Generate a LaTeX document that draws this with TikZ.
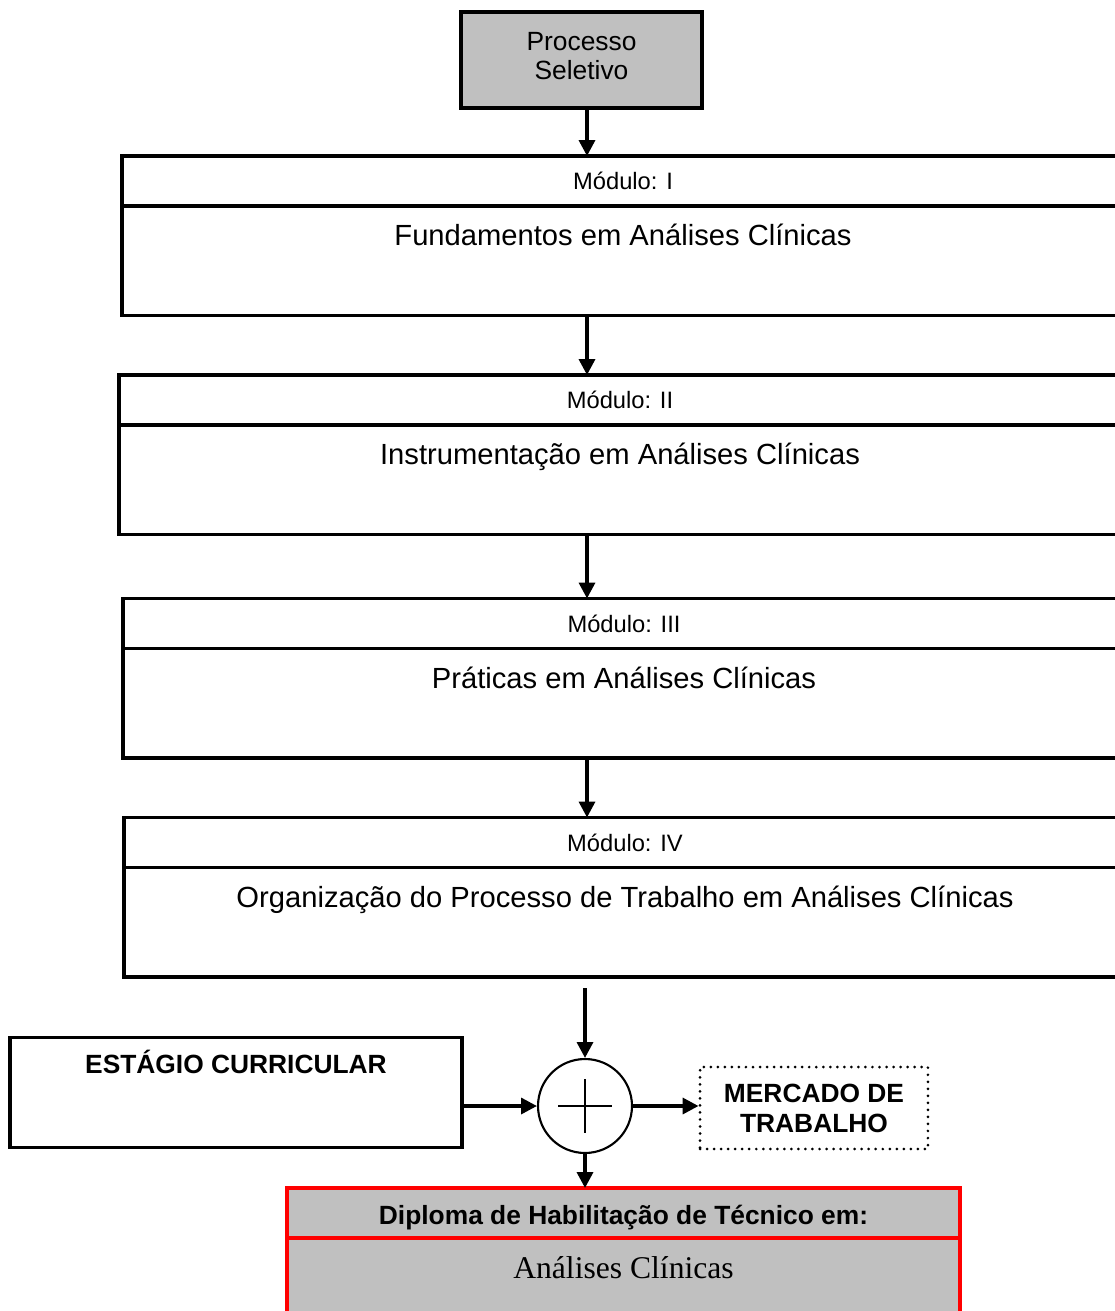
\documentclass[tikz,border=0pt]{standalone}
\usepackage{fontspec}
\setmainfont{Liberation Sans}
\newfontfamily\timesfont{Liberation Serif}
\usetikzlibrary{arrows.meta, positioning}
\definecolor{boxgray}{HTML}{C0C0C0}
\definecolor{dipred}{HTML}{FF0000}

\tikzset{
  header/.style={draw, line width=2pt, outer sep=0pt, inner sep=0pt,
    minimum width=20.04cm, minimum height=1cm,
    font=\fontsize{13.5}{16}\selectfont},
  body/.style={draw, line width=2pt, outer sep=0pt, inner ysep=0pt,
    minimum width=20.04cm, text height=22.7pt, text depth=39.7pt,
    font=\fontsize{16.6}{20}\selectfont},
  arr/.style={draw, -{Triangle[length=9pt,width=9pt]}, line width=2pt}
}

\begin{document}
\begin{tikzpicture}[x=0.02cm, y=-0.02cm]
\useasboundingbox (0,0) rectangle (1115,1311);
\clip (0,0) rectangle (1115,1311);

\coordinate (ax) at (587,0);

\node[draw, fill=boxgray, line width=2pt, minimum width=4.82cm, minimum height=1.92cm,
  align=center, text depth=4.6pt, font=\fontsize{15}{17}\selectfont] (ps) at (581.5,60) {Processo\\Seletivo};

% modulos
\node[header] (m1h) at (623,181) {Módulo: I};
\node[body, below=0pt of m1h] (m1b) {Fundamentos em Análises Clínicas};
\node[header] (m2h) at (620,400) {Módulo: II};
\node[body, below=0pt of m2h] (m2b) {Instrumentação em Análises Clínicas};
\node[header] (m3h) at (624,623.5) {Módulo: III};
\node[body, below=0pt of m3h] (m3b) {Práticas em Análises Clínicas};
\node[header] (m4h) at (625,842.5) {Módulo: IV};
\node[body, below=0pt of m4h] (m4b) {Organização do Processo de Trabalho em Análises Clínicas};

% estagio e saidas
\node[draw, line width=2pt, minimum width=9.04cm, inner ysep=0pt,
  text height=20.8pt, text depth=42pt, font=\bfseries\fontsize{15}{18}\selectfont]
  (est) at (236,1092.5) {ESTÁGIO CURRICULAR};
\node[circle, draw, line width=1.2pt, minimum size=1.88cm, inner sep=0pt] (sum) at (585,1106) {};
\draw[line width=0.8pt] (sum.center) +(-27,0) -- +(27,0);
\draw[line width=0.8pt] (sum.center) +(0,-27) -- +(0,27);
\node[draw, line width=1.7pt, dash pattern=on 0pt off 4pt, line cap=round,
  minimum width=4.56cm, minimum height=1.64cm, align=center,
  font=\bfseries\fontsize{15}{17}\selectfont] (merc) at (814,1108) {MERCADO DE\\TRABALHO};

% diploma
\node[draw=dipred, fill=boxgray, line width=2pt, outer sep=0pt, inner sep=0pt,
  minimum width=13.46cm, minimum height=1cm, text height=13.6pt, text depth=0pt,
  font=\bfseries\fontsize{15}{18}\selectfont]
  (dh) at (623.5,1213) {Diploma de Habilitação de Técnico em:};
\node[draw=dipred, fill=boxgray, line width=2pt, outer sep=0pt, inner ysep=0pt,
  minimum width=13.46cm, text height=23.2pt, text depth=50pt,
  font=\timesfont\fontsize{18}{22}\selectfont, below=0pt of dh] (db) {Análises Clínicas};

\path
  (ps.south -| ax) edge[arr] (m1h.north -| ax)
  (m1b.south -| ax) edge[arr] (m2h.north -| ax)
  (m2b.south -| ax) edge[arr] (m3h.north -| ax)
  (m3b.south -| ax) edge[arr] (m4h.north -| ax)
  (m4b.south -| sum) edge[arr, shorten <=0.22cm] (sum.north)
  (est.east |- sum) edge[arr] (sum.west)
  (sum.east) edge[arr] (sum.east -| merc.west)
  (sum.south) edge[arr] (sum.south |- dh.north);
\end{tikzpicture}
\end{document}
